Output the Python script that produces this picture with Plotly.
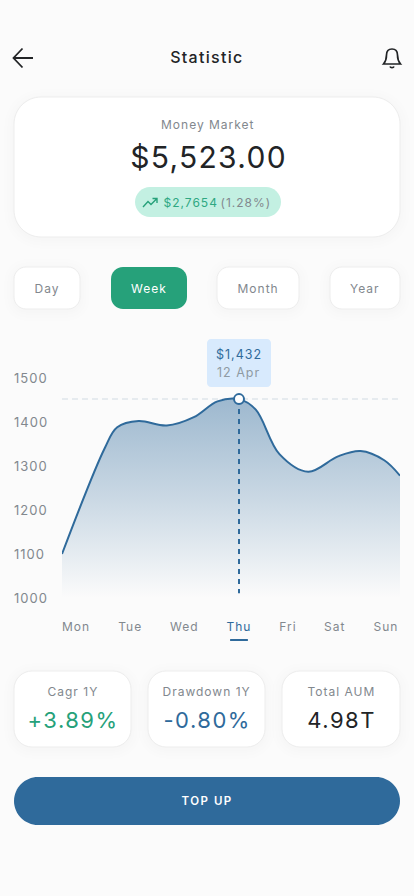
import plotly.graph_objects as go

# ---- data ----
curve_days = [0, 0.76, 0.98, 1.36, 1.86, 2.34, 2.76, 3.142, 3.44, 3.86, 4.37, 4.90, 5.30, 5.72, 6.0]
curve_vals = [1100, 1341, 1388, 1402, 1392, 1411, 1447, 1452, 1428, 1327, 1287, 1322, 1334, 1313, 1278]
day_labels = ["Mon", "Tue", "Wed", "Thu", "Fri", "Sat", "Sun"]
day_ticks = [0.25, 1.21, 2.17, 3.14, 4.01, 4.84, 5.75]
value_ticks = [1000, 1100, 1200, 1300, 1400, 1500]
peak_day = 3.142
peak_val = 1452
drop_end_val = 1011

W, H = 414, 896
BLUE = "#2f6a9b"
GREEN = "#26a17a"
INK = "#222426"
GREY = "#82888e"
BG = "#fbfbfb"


def fx(x):
    return x / W


def fy(y):
    return 1 - y / H


def P(cmds):
    out = []
    for c in cmds:
        if c[0] == "Z":
            out.append("Z")
        else:
            nums = c[1:]
            pts = " ".join(
                f"{fx(nums[i]):.5f},{fy(nums[i + 1]):.5f}" for i in range(0, len(nums), 2)
            )
            out.append(f"{c[0]} {pts}")
    return " ".join(out)


def rr(x0, y0, x1, y1, r):
    k = r * 0.45
    return P([
        ("M", x0 + r, y0), ("L", x1 - r, y0),
        ("C", x1 - k, y0, x1, y0 + k, x1, y0 + r),
        ("L", x1, y1 - r),
        ("C", x1, y1 - k, x1 - k, y1, x1 - r, y1),
        ("L", x0 + r, y1),
        ("C", x0 + k, y1, x0, y1 - k, x0, y1 - r),
        ("L", x0, y0 + r),
        ("C", x0, y0 + k, x0 + k, y0, x0 + r, y0),
        ("Z",),
    ])


shapes = []


def box(x0, y0, x1, y1, r, fill, border=None, shadow=False):
    if shadow:
        for grow, a in ((10, 0.003), (7, 0.004), (4, 0.004), (2, 0.005)):
            shapes.append(dict(type="path", xref="paper", yref="paper", layer="below",
                               path=rr(x0 - grow, y0 - grow + 2, x1 + grow, y1 + grow + 2, r + grow),
                               fillcolor=f"rgba(0,0,0,{a})", line=dict(width=0)))
    shapes.append(dict(type="path", xref="paper", yref="paper", layer="below",
                       path=rr(x0, y0, x1, y1, r), fillcolor=fill,
                       line=dict(color=border or fill, width=1 if border else 0)))


def icon(cmds, color, width):
    shapes.append(dict(type="path", xref="paper", yref="paper", layer="above",
                       path=P(cmds), line=dict(color=color, width=width),
                       fillcolor="rgba(0,0,0,0)"))


BORDER = "#ededed"
box(14, 97, 400, 237, 27, "#ffffff", BORDER, True)
box(135, 187, 281, 217, 15, "#c3f0e2")
for x0, x1 in ((14, 80), (217, 299), (330, 400)):
    box(x0, 267, x1, 309, 12, "#ffffff", BORDER, True)
box(111, 267, 187, 309, 12, GREEN)
for x0, x1 in ((14, 131), (148, 265), (282, 400)):
    box(x0, 671, x1, 747, 18, "#ffffff", BORDER, True)
box(14, 777, 400, 825, 24, BLUE)
box(207, 339, 271, 387, 4, "#d8eafd")
box(230, 639, 248, 641, 0.5, BLUE)

# back arrow
icon([("M", 13.5, 58), ("L", 33, 58), ("M", 22.5, 48.5), ("L", 13.5, 58), ("L", 22.5, 67.5)], INK, 1.8)
# bell
icon([("M", 383.5, 64), ("L", 400.5, 64),
      ("C", 398, 61, 397.5, 59, 397.5, 55),
      ("C", 397.5, 51, 395, 49, 392, 49),
      ("C", 389, 49, 386.5, 51, 386.5, 55),
      ("C", 386.5, 59, 386, 61, 383.5, 64), ("Z",)], INK, 1.7)
icon([("M", 390, 66.5), ("C", 390.5, 68, 393.5, 68, 394, 66.5)], INK, 1.7)
# trend
icon([("M", 143, 207), ("L", 148, 201.5), ("L", 151, 204.5), ("L", 157, 198.5),
      ("M", 152.5, 198.5), ("L", 157, 198.5), ("L", 157, 203)], GREEN, 1.4)

anns = []


def T(text, x, y, size, color, weight=400):
    anns.append(dict(text=text, x=fx(x), y=fy(y), xref="paper", yref="paper", showarrow=False,
                     xanchor="center", yanchor="middle",
                     font=dict(family="Inter", size=size, color=color, weight=weight)))


T("Statistic", 207, 57, 16, INK, weight=500)
T("Money Market", 208, 124, 12, GREY)
T("$5,523.00", 208, 157, 30, INK)
T("$2,7654", 191, 202, 12, "#2fa882")
T("(1.28%)", 245.5, 202, 12, GREY)
T("Day", 47, 288, 12, GREY)
T("Week", 149, 288, 12, "#ffffff")
T("Month", 258, 288, 12, GREY)
T("Year", 365, 288, 12, GREY)
T("$1,432", 239, 354, 12.5, BLUE)
T("12 Apr", 239, 372, 12.5, "#8f9aa3")
T("Cagr 1Y", 72.5, 691, 12, GREY)
T("+3.89%", 72.5, 720, 22, GREEN)
T("Drawdown 1Y", 206.5, 691, 12, GREY)
T("-0.80%", 206.5, 720, 22, BLUE)
T("Total AUM", 341, 691, 12, GREY)
T("4.98T", 341, 720, 22, INK)
T("TOP UP", 207, 801, 11.5, "#ffffff", weight=600)

fig = go.Figure()
fig.add_trace(go.Scatter(x=[curve_days[0], curve_days[-1]], y=[peak_val, peak_val], mode="lines",
                         line=dict(color="#dfe6ec", width=1.5, dash="6px,4px"), hoverinfo="skip"))
fig.add_trace(go.Scatter(x=curve_days, y=curve_vals, mode="lines",
                         line=dict(color=BLUE, width=2, shape="spline", smoothing=1.0),
                         fill="tozeroy",
                         fillgradient=dict(type="vertical", start=peak_val, stop=1000,
                                           colorscale=[[0, "rgba(47,106,155,0.46)"],
                                                       [0.5, "rgba(47,106,155,0.24)"],
                                                       [1, "rgba(47,106,155,0)"]]),
                         hoverinfo="skip"))
fig.add_trace(go.Scatter(x=[peak_day, peak_day], y=[peak_val, drop_end_val], mode="lines",
                         line=dict(color=BLUE, width=2, dash="5px,5px"), hoverinfo="skip"))
fig.add_trace(go.Scatter(x=[peak_day], y=[peak_val], mode="markers",
                         marker=dict(size=10, color="#ffffff", line=dict(color=BLUE, width=2)),
                         hoverinfo="skip", cliponaxis=False))

ticktext = [f'<span style="color:{BLUE}">{d}</span>' if d == "Thu" else d for d in day_labels]
fig.update_layout(
    width=W, height=H, margin=dict(l=0, r=0, t=0, b=0, autoexpand=False),
    paper_bgcolor=BG, plot_bgcolor="rgba(0,0,0,0)", showlegend=False,
    shapes=shapes, annotations=anns,
    xaxis=dict(domain=[fx(62), fx(400)], range=[0, 6], tickmode="array", tickvals=day_ticks,
               ticktext=ticktext, showgrid=False, zeroline=False, showline=False, ticks="",
               ticklabelstandoff=20, tickangle=0, automargin=False,
               tickfont=dict(family="Inter", size=12, color=GREY)),
    yaxis=dict(domain=[fy(598), fy(378)], range=[1000, 1500], tickmode="array", tickvals=value_ticks,
               showgrid=False, zeroline=False, showline=False, ticks="", ticklabelstandoff=13,
               automargin=False,
               tickfont=dict(family="Inter", size=13, color=GREY)),
)

post = """
document.body.style.margin='0';
document.body.style.background='#fbfbfb';
document.querySelectorAll('.annotation-text, .xtick text, .ytick text').forEach(function(t){
  var s = parseFloat(t.style.fontSize) || 12;
  t.style.letterSpacing = s >= 30 ? '1.3px' : (s >= 20 ? '1.5px' : (s >= 16 ? '1.3px' : '1px'));
  if (t.textContent === 'TOP UP') t.style.letterSpacing = '1.5px';
});
document.querySelectorAll('.ytick text').forEach(function(t){
  t.setAttribute('text-anchor', 'start');
  t.setAttribute('x', '27');
});
"""
fig.write_html("out.html", post_script=post, config={"displayModeBar": False})
